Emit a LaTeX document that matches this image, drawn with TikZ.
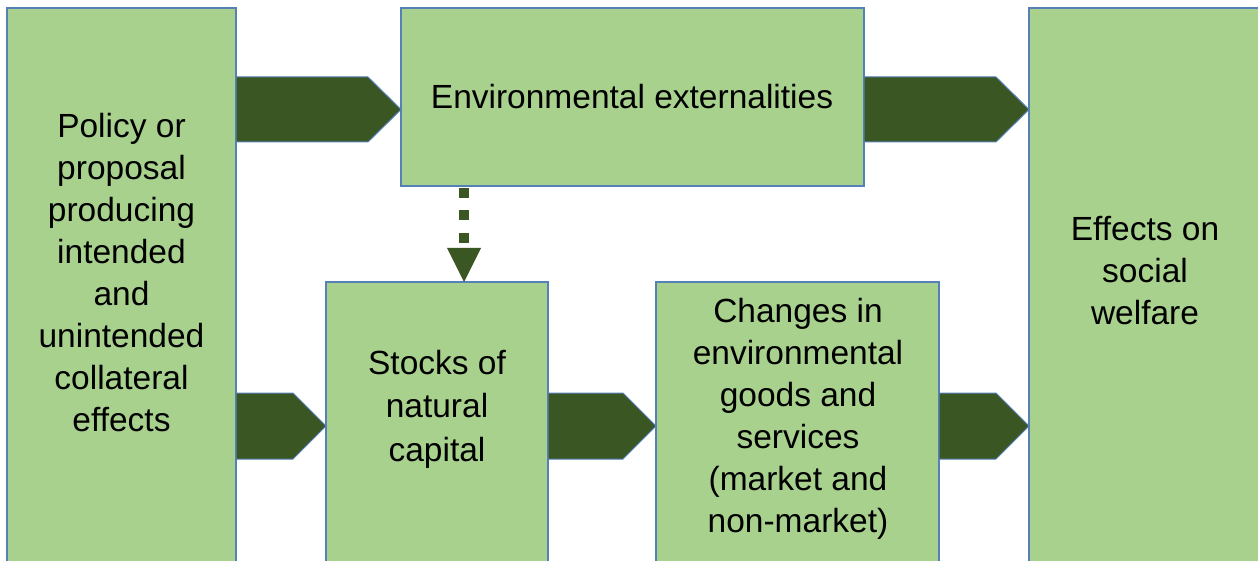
\documentclass[tikz,border=0pt]{standalone}
\usepackage{fontspec}
\setmainfont{Liberation Sans}
\usetikzlibrary{calc}
\definecolor{boxfill}{HTML}{A9D18E}
\definecolor{boxline}{HTML}{5580B8}
\definecolor{arrfill}{HTML}{3A5623}
\newcommand\bigarr[5]{\draw[bigarrow] (#1.east |- 0,#3) -- ($(#2.west |- 0,#3)+(-33,0)$) -- (#2.west |- 0,#5) -- ($(#2.west |- 0,#4)+(-33,0)$) -- (#1.east |- 0,#4) -- cycle;}
\begin{document}
\begin{tikzpicture}[x=1pt,y=-1pt,
  box/.style={draw=boxline,fill=boxfill,line width=1.5pt,anchor=north west,inner sep=0pt,outer sep=0pt},
  lbl/.style={align=center,font=\fontsize{33.5}{42}\selectfont,inner sep=0pt},
  bigarrow/.style={draw=boxline,fill=arrfill,line width=1pt}]
\useasboundingbox (0,0) rectangle (1258,561);
\clip (0,0) rectangle (1258,561);
\fill[white] (0,0) rectangle (1258,561);
% boxes
\node[box,minimum width=229pt,minimum height=600pt] (policy) at (7,8) {};
\node[box,minimum width=463pt,minimum height=178pt] (env) at (401,8) {};
\node[box,minimum width=233pt,minimum height=600pt] (effects) at (1029,8) {};
\node[box,minimum width=222pt,minimum height=320pt] (stocks) at (326,282) {};
\node[box,minimum width=283pt,minimum height=320pt] (changes) at (656,282) {};
% labels
\node[lbl] (tpolicy) at (121.5,273) {Policy or\\proposal\\producing\\intended\\and\\unintended\\collateral\\effects};
\node[lbl] (tenv) at (632,97) {Environmental externalities};
\node[lbl] (teffects) at (1145,271) {Effects on\\social\\welfare};
\node[lbl,font=\fontsize{33.5}{43.5}\selectfont] (tstocks) at (437,409) {Stocks of\\natural\\capital};
\node[lbl] (tchanges) at (798,419) {Changes in\\environmental\\goods and\\services\\(market and\\non-market)};
% block arrows
\bigarr{policy}{env}{77}{142}{109.5}
\bigarr{env}{effects}{77}{142}{109.5}
\bigarr{policy}{stocks}{393}{459}{426}
\bigarr{stocks}{changes}{393}{459}{426}
\bigarr{changes}{effects}{393}{459}{426}
% dashed arrow
\coordinate (dstart) at ($(env.south -| 464,0)+(0,2)$);
\coordinate (dend) at (464,245);
\draw[arrfill,line width=10pt,dash pattern=on 10pt off 12.5pt] (dstart) -- (dend);
\fill[arrfill] (447,248) -- (481,248) -- (stocks.north -| 464,0) -- cycle;
\end{tikzpicture}
\end{document}
